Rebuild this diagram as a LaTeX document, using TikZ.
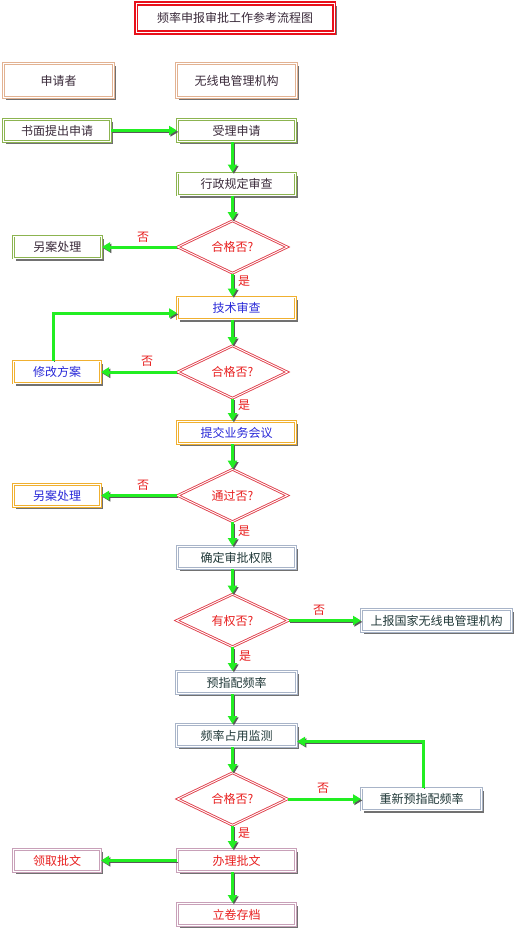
\documentclass[tikz,border=0pt]{standalone}
\usepackage{fontspec}
\setmainfont{Noto Sans CJK SC}
\usetikzlibrary{shapes.geometric,arrows.meta,shadows}
\definecolor{cRed}{HTML}{E8101A}
\definecolor{cTan}{HTML}{E2B292}
\definecolor{cGreen}{HTML}{8CB450}
\definecolor{cGold}{HTML}{F0B030}
\definecolor{cSlate}{HTML}{A8B4C8}
\definecolor{cPink}{HTML}{C8A0B8}
\definecolor{cDia}{HTML}{E0404C}
\definecolor{cArrow}{HTML}{22EE22}
\definecolor{tBlue}{HTML}{2828D8}
\definecolor{tDark}{HTML}{3A2A3A}
\definecolor{tSlate}{HTML}{203838}
\definecolor{tRed}{HTML}{E82020}
\begin{document}
\begin{tikzpicture}[x=1pt,y=-1pt,
  box/.style={rectangle, draw=#1, line width=1pt, double=white, double distance=0.9pt,
    fill=white, minimum height=22pt, inner sep=0pt, font=\fontsize{12}{13}\selectfont,
    drop shadow={shadow xshift=2.5pt, shadow yshift=-2.5pt, fill=black!65, opacity=0.85}},
  dia/.style={diamond, draw=cDia, line width=0.9pt, double=white, double distance=0.9pt,
    fill=white, minimum width=110pt, minimum height=42pt, inner sep=0pt, text=tRed,
    font=\fontsize{12}{13}\selectfont},
  arr/.style={draw=cArrow, line width=3pt, -{Triangle[length=8pt,width=9pt]},
    preaction={draw=black!65, transform canvas={xshift=1.4pt,yshift=-1.4pt}}},
  lab/.style={text=tRed, font=\fontsize{12}{13}\selectfont, inner sep=0pt}
]
\useasboundingbox[fill=white] (0,0) rectangle (517,930);
\coordinate (col) at (232.5,0);

\node[box=cRed, line width=1.6pt, double distance=1pt, minimum width=198pt, minimum height=29pt, text=tDark] (title) at (235,18) {频率申报审批工作参考流程图};

\node[box=cTan, minimum width=110pt, minimum height=34pt, text=tDark] (sqz) at (58.5,80.5) {申请者};
\node[box=cTan, minimum width=120pt, minimum height=34pt, text=tDark] (wxd) at (236.5,80.5) {无线电管理机构};

\node[box=cGreen, minimum width=107pt, text=tDark] (sm) at (57,130.5) {书面提出申请};
\node[box=cGreen, minimum width=118pt, text=tDark] (sl) at (236.5,130.5) {受理申请};
\node[box=cGreen, minimum width=118pt, text=tDark] (xz) at (236.5,184) {行政规定审查};
\node[dia] (d1) at (232.5,247) {合格否?};
\node[box=cGreen, minimum width=88pt, text=tDark] (la1) at (57.5,247) {另案处理};

\node[box=cGold, minimum width=118pt, text=tBlue] (js) at (236.5,308) {技术审查};
\node[dia, minimum height=44pt] (d2) at (232.5,372) {合格否?};
\node[box=cGold, minimum width=87pt, text=tBlue] (xg) at (57,372) {修改方案};

\node[box=cGold, minimum width=118pt, text=tBlue] (tj) at (236.5,432.5) {提交业务会议};
\node[dia, minimum height=43pt] (d3) at (232.5,495.5) {通过否?};
\node[box=cGold, minimum width=87pt, text=tBlue] (la2) at (57,495.5) {另案处理};

\node[box=cSlate, minimum width=118pt, text=tSlate] (qd) at (236.5,557.5) {确定审批权限};
\node[dia, minimum width=112pt] (d4) at (232.5,620.5) {有权否?};
\node[box=cSlate, minimum width=150pt, text=tSlate] (sb) at (436.5,620.5) {上报国家无线电管理机构};
\node[box=cSlate, minimum width=120pt, text=tSlate] (yz) at (236.5,682.5) {预指配频率};
\node[box=cSlate, minimum width=120pt, text=tSlate] (jc) at (236.5,735.5) {频率占用监测};
\node[dia, minimum height=41pt] (d5) at (232.5,799) {合格否?};
\node[box=cSlate, minimum width=120pt, text=tSlate] (cx) at (421.5,799) {重新预指配频率};

\node[box=cPink, minimum width=87pt, text=tRed] (lq) at (57,860.5) {领取批文};
\node[box=cPink, minimum width=118pt, text=tRed] (bl) at (236.5,860.5) {办理批文};
\node[box=cPink, minimum width=118pt, text=tRed] (lj) at (236.5,914.5) {立卷存档};

\draw[arr] (sm.east) -- (sl.west);
\draw[arr] (sl.south -| col) -- (xz.north -| col);
\draw[arr] (xz.south -| col) -- (d1.north);
\draw[arr] (d1.west) -- (la1.east);
\draw[arr] (d1.south) -- (js.north -| col);
\draw[arr] (js.south -| col) -- (d2.north);
\draw[arr] (d2.west) -- (xg.east);
\draw[arr] ([xshift=-4pt]xg.north) |- ([yshift=-5pt]js.west);
\draw[arr] (d2.south) -- (tj.north -| col);
\draw[arr] (tj.south -| col) -- (d3.north);
\draw[arr] (d3.west) -- (la2.east);
\draw[arr] (d3.south) -- (qd.north -| col);
\draw[arr] (qd.south -| col) -- (d4.north);
\draw[arr] (d4.east) -- (sb.west);
\draw[arr] (d4.south) -- (yz.north -| col);
\draw[arr] (yz.south -| col) -- (jc.north -| col);
\draw[arr] (jc.south -| col) -- (d5.north);
\draw[arr] (d5.east) -- (cx.west);
\draw[arr] ([xshift=1.5pt]cx.north) |- ([yshift=-6pt]jc.east);
\draw[arr] (d5.south) -- (bl.north -| col);
\draw[arr] (bl.west) -- (lq.east);
\draw[arr] (bl.south -| col) -- (lj.north -| col);

\node[lab] (n1) at (143,237) {否};
\node[lab] (y1) at (244,281) {是};
\node[lab] (n2) at (147,361) {否};
\node[lab] (y2) at (244,405) {是};
\node[lab] (n3) at (143,485) {否};
\node[lab] (y3) at (244,531) {是};
\node[lab] (n4) at (319,610) {否};
\node[lab] (y4) at (245,656) {是};
\node[lab] (n5) at (323,788) {否};
\node[lab] (y5) at (244,833) {是};
\end{tikzpicture}
\end{document}
